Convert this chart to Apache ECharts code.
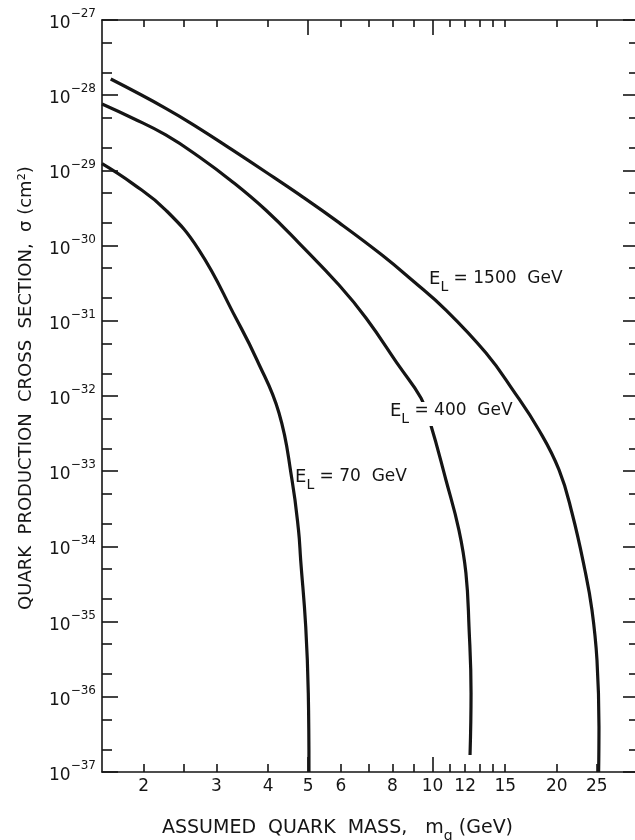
<!DOCTYPE html>
<html>
<head>
<meta charset="utf-8">
<script src="https://cdn.jsdelivr.net/npm/echarts@6/dist/echarts.min.js"></script>
<style>
html,body{margin:0;padding:0;background:#ffffff;}
#chart{width:635px;height:840px;}
</style>
</head>
<body>
<div id="chart"></div>
<script>
// ---- data (quark mass in GeV, cross section in cm^2) ----
const mass1500  = [1.664, 2.261, 2.722, 3.277, 3.948, 4.753, 5.939, 7.548, 8.92, 10.78, 13.48, 15.66, 18.10, 20.25, 21.77, 23.39, 24.33, 25.02, 25.30, 25.25];
const sigma1500 = [1.64e-28, 6.70e-29, 3.63e-29, 1.87e-29, 9.52e-30, 4.79e-30, 2.02e-30, 7.50e-31, 3.49e-31, 1.39e-31, 3.73e-32, 1.20e-32, 3.53e-33, 1.04e-33, 2.78e-34, 4.85e-35, 1.43e-35, 3.08e-36, 3.96e-37, 1.0e-37];

const mass400  = [1.585, 1.876, 2.261, 2.722, 3.277, 3.948, 4.753, 5.939, 6.904, 8.298, 9.38, 9.86, 10.78, 11.59, 12.05, 12.26, 12.40, 12.33];
const sigma400 = [7.64e-29, 4.98e-29, 2.96e-29, 1.52e-29, 7.08e-30, 2.97e-30, 1.08e-30, 2.99e-31, 1.09e-31, 2.51e-32, 9.40e-33, 4.51e-33, 7.64e-34, 1.65e-34, 4.43e-35, 8.47e-36, 1.12e-36, 1.68e-37];

const mass70  = [1.585, 1.876, 2.261, 2.722, 3.345, 3.760, 4.251, 4.571, 4.739, 4.797, 4.934, 5.005, 5.024];
const sigma70 = [1.23e-29, 6.73e-30, 2.97e-30, 8.73e-31, 1.08e-31, 3.01e-32, 5.94e-33, 7.64e-34, 1.65e-34, 6.59e-35, 8.55e-36, 1.12e-36, 1.0e-37];

const seriesNames = ['1500', '400', '70'];

// ---- ticks / tick labels ----
const xLabelValues = [2, 3, 4, 5, 6, 8, 10, 12, 15, 20, 25];
const xMinorTicks  = [2, 2.5, 3, 4, 6, 7, 8, 9, 11, 12, 13, 14, 15, 20, 25];
const xMajorTicks  = [5, 10];
const yDecadeExponents = [-37, -36, -35, -34, -33, -32, -31, -30, -29, -28, -27];
const yMinorTicks = [2e-37, 5e-37, 2e-36, 5e-36, 2e-35, 5e-35, 2e-34, 5e-34, 2e-33, 5e-33,
                     2e-32, 5e-32, 2e-31, 5e-31, 2e-30, 5e-30, 2e-29, 5e-29, 2e-28, 5e-28];

const FONT = 'DejaVu Sans';
const INK = '#151515';
const xMin = Math.pow(10, 0.2), xMax = Math.pow(10, 1.5);
const yMinExp = yDecadeExponents[0], yMaxExp = yDecadeExponents[yDecadeExponents.length - 1];

function xAxisDef(position, ticks, len, showLine, labels) {
  return {
    type: 'log', logBase: 10, position: position, min: xMin, max: xMax,
    axisLine: {show: showLine, onZero: false, lineStyle: {color: INK, width: 1.6}},
    axisTick: {show: true, inside: true, length: len, customValues: ticks, lineStyle: {color: INK, width: 1.6}},
    axisLabel: labels ? {
      show: true, customValues: labels, margin: 6,
      fontFamily: FONT, fontSize: 17, color: INK,
      formatter: v => String(Math.round(v * 10) / 10)
    } : {show: false},
    splitLine: {show: false}, minorTick: {show: false}
  };
}
// y axis: logarithmic (decades), drawn on a value axis of log10(sigma)
function yAxisDef(position, minorTicks, len, showLine, showLabels) {
  const tick = {show: true, inside: true, length: len, lineStyle: {color: INK, width: 1.6}};
  if (minorTicks) tick.customValues = minorTicks.map(v => Math.log10(v));
  return {
    type: 'value', position: position, min: yMinExp, max: yMaxExp, interval: 1,
    axisLine: {show: showLine, onZero: false, lineStyle: {color: INK, width: 1.6}},
    axisTick: tick,
    axisLabel: showLabels ? {
      show: true, margin: 6,
      formatter: v => '{b|10}{s|\u2212' + Math.abs(Math.round(v)) + '}',
      rich: {
        b: {fontFamily: FONT, fontSize: 17, color: INK, lineHeight: 24, verticalAlign: 'bottom'},
        s: {fontFamily: FONT, fontSize: 12, color: INK, verticalAlign: 'top'}
      }
    } : {show: false},
    splitLine: {show: false}, minorTick: {show: false}
  };
}

const xAxes = [
  xAxisDef('bottom', xMinorTicks, 8, true, xLabelValues),
  xAxisDef('bottom', xMajorTicks, 15, false, null),
  xAxisDef('top', xMinorTicks, 7, true, null),
  xAxisDef('top', xMajorTicks, 15, false, null)
];
xAxes[0].name = '{n|ASSUMED  QUARK  MASS,   m}{q|q}{n| (GeV)}';
xAxes[0].nameLocation = 'middle';
xAxes[0].nameGap = 47;
xAxes[0].nameTextStyle = {
  padding: [0, 66, 0, 0],
  rich: {
    n: {fontFamily: FONT, fontSize: 19, color: INK, lineHeight: 24, verticalAlign: 'top'},
    q: {fontFamily: FONT, fontSize: 14, color: INK, lineHeight: 24, verticalAlign: 'bottom'}
  }
};

const yAxes = [
  yAxisDef('left', null, 16, true, true),
  yAxisDef('left', yMinorTicks, 10, false, false),
  yAxisDef('right', null, 16, true, false),
  yAxisDef('right', yMinorTicks, 10, false, false)
];
yAxes[0].name = 'QUARK  PRODUCTION  CROSS  SECTION,  \u03c3 (cm\u00b2)';
yAxes[0].nameLocation = 'middle';
yAxes[0].nameGap = 67;
yAxes[0].nameTextStyle = {fontFamily: FONT, fontSize: 18, color: INK, padding: [0, 0, 0, 16]};

function pairs(xs, ys) { return xs.map((x, i) => [x, Math.log10(ys[i])]); }

const labelRich = {
  e: {fontFamily: FONT, fontSize: 18, color: INK, lineHeight: 24, verticalAlign: 'top'},
  l: {fontFamily: FONT, fontSize: 14, color: INK, lineHeight: 24, verticalAlign: 'bottom'},
  t: {fontFamily: FONT, fontSize: 17, color: INK, lineHeight: 24, verticalAlign: 'top'}
};
function curveLabel(mass, sigma, text, bg) {
  return {
    symbol: 'circle', symbolSize: 0, silent: true,
    itemStyle: {color: 'rgba(0,0,0,0)'},
    label: {
      show: true, position: 'right', distance: 0, offset: [0, 3],
      formatter: '{e|E}{l|L}{t| = ' + text + '  GeV}',
      rich: labelRich,
      backgroundColor: bg ? '#ffffff' : 'transparent',
      padding: bg ? [0, 2, 0, 2] : 0
    },
    data: [{coord: [mass, Math.log10(sigma)]}]
  };
}

function lineSeries(name, xs, ys, mp) {
  return {
    name: name, type: 'line', xAxisIndex: 0, yAxisIndex: 0,
    data: pairs(xs, ys), showSymbol: false, symbol: 'none',
    smooth: 0.45, clip: true,
    lineStyle: {color: INK, width: 3.2},
    markPoint: mp, z: 3
  };
}

const option = {
  animation: false,
  backgroundColor: '#ffffff',
  grid: {left: 102, right: -4, top: 20, bottom: 68, containLabel: false, outerBoundsMode: 'none'},
  xAxis: xAxes,
  yAxis: yAxes,
  series: [
    lineSeries(seriesNames[0], mass1500, sigma1500, curveLabel(9.81, 3.60e-31, '1500', false)),
    lineSeries(seriesNames[1], mass400, sigma400, curveLabel(7.80, 6.32e-33, '400', true)),
    lineSeries(seriesNames[2], mass70, sigma70, curveLabel(4.648, 8.24e-34, '70', false))
  ]
};

const chart = echarts.init(document.getElementById('chart'), null, {renderer: 'canvas'});
chart.setOption(option);
</script>
</body>
</html>
